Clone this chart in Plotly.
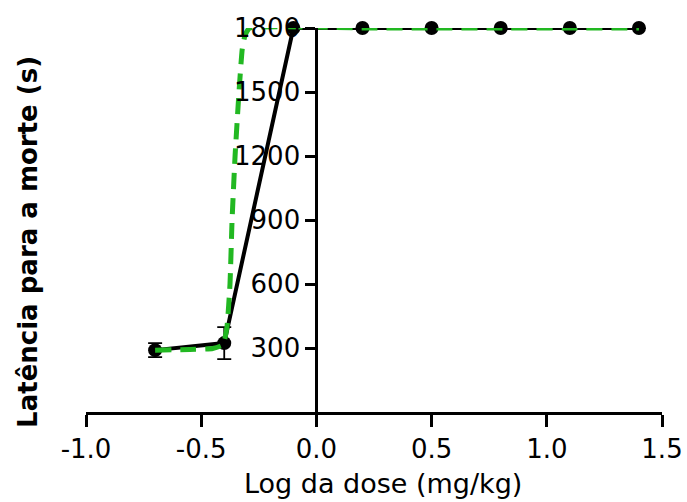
import plotly.graph_objects as go

# Data
dose_log = [-0.7, -0.4, -0.1, 0.2, 0.5, 0.8, 1.1, 1.4]
latency = [290, 323, 1800, 1800, 1800, 1800, 1800, 1800]
latency_err = [33, 75, 0, 0, 0, 0, 0, 0]

fit_x = [-0.7, -0.55, -0.45, -0.405, -0.388, -0.375, -0.366, -0.353, -0.336, -0.322, -0.31, -0.29,
         0.2, 0.5, 0.8, 1.1, 1.4]
fit_y = [290, 293, 298, 315, 400, 600, 900, 1200, 1500, 1700, 1765, 1800,
         1800, 1800, 1800, 1800, 1800]

x_ticks = [-1.0, -0.5, 0.0, 0.5, 1.0, 1.5]
x_labels = ["-1.0", "-0.5", "0.0", "0.5", "1.0", "1.5"]
y_ticks = [300, 600, 900, 1200, 1500, 1800]

FONT = "DejaVu Sans"

fig = go.Figure()
fig.add_trace(go.Scatter(
    x=dose_log, y=latency, mode="lines+markers",
    line=dict(color="black", width=4),
    marker=dict(color="black", size=14),
    error_y=dict(type="data", array=latency_err, visible=True,
                 color="black", thickness=1.8, width=7),
    cliponaxis=False, showlegend=False))
fig.add_trace(go.Scatter(
    x=fit_x, y=fit_y, mode="lines",
    line=dict(color="#22b822", width=5, dash="16px,9px", shape="spline", smoothing=0.4),
    cliponaxis=False, showlegend=False))

fig.update_layout(
    width=687, height=502,
    margin=dict(l=86, r=25, t=28, b=90, autoexpand=False),
    paper_bgcolor="white", plot_bgcolor="white",
    font=dict(family=FONT, color="black"),
    xaxis=dict(range=[-1.0, 1.5], tickvals=x_ticks, ticktext=x_labels,
               showgrid=False, zeroline=False, showline=True, linecolor="black",
               linewidth=3, ticks="outside", ticklen=12, tickwidth=3, tickcolor="black",
               tickfont=dict(size=26, family=FONT), anchor="y", automargin=False),
    yaxis=dict(range=[0, 1800], tickvals=y_ticks, showgrid=False, zeroline=False,
               showline=True, linecolor="black", linewidth=3, ticks="outside",
               ticklen=10, tickwidth=3, tickcolor="black",
               tickfont=dict(size=26, family=FONT), anchor="free", position=0.4,
               automargin=False),
    annotations=[
        dict(text="Log da dose (mg/kg)", xref="paper", yref="paper", x=0.516, y=0,
             xanchor="center", yanchor="middle", yshift=-71, showarrow=False,
             font=dict(size=27, family=FONT)),
        dict(text="<b>Latência para a morte (s)</b>", xref="paper", yref="paper",
             x=-0.1007, y=0.443, xanchor="center", yanchor="middle", textangle=-90,
             showarrow=False, font=dict(size=26, family=FONT)),
    ],
)

fig.write_html("out.html", config={"displayModeBar": False},
               post_script="document.body.style.margin='0';document.body.style.overflow='hidden';")
